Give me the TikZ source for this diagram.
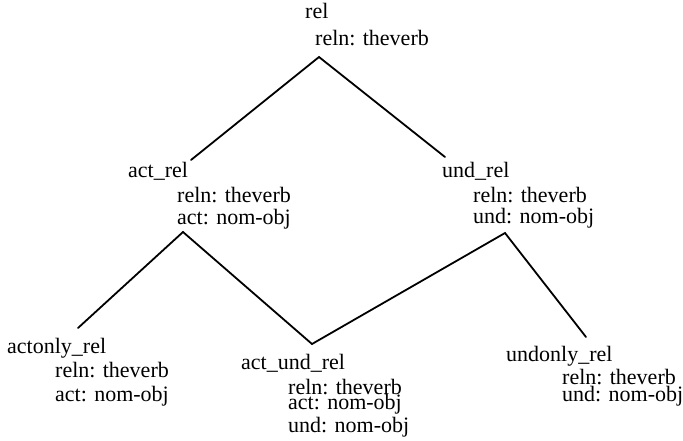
\documentclass[tikz,border=0pt]{standalone}
\usepackage{fontspec}
\setmainfont{Liberation Serif}
\begin{document}
\begin{tikzpicture}[x=1pt,y=-1pt,
  lbl/.style={anchor=base west,inner sep=0pt,font=\fontsize{22}{22}\selectfont},
  link/.style={line width=1.8pt,line cap=round,line join=miter}]
\useasboundingbox (0,0) rectangle (683,440);

% type names and their features
\node[lbl] (rel)    at (305,18)  {rel};
\node[lbl] (rel-a)  at (315,45)  {reln: theverb};

\node[lbl] (act)    at (128,177) {act\_rel};
\node[lbl] (act-a)  at (177,202) {reln: theverb};
\node[lbl] (act-b)  at (177,224) {act: nom-obj};

\node[lbl] (und)    at (442,177) {und\_rel};
\node[lbl] (und-a)  at (473,202) {reln: theverb};
\node[lbl] (und-b)  at (473,223) {und: nom-obj};

\node[lbl] (aon)    at (7,353)   {actonly\_rel};
\node[lbl] (aon-a)  at (55,377)  {reln: theverb};
\node[lbl] (aon-b)  at (55,401)  {act: nom-obj};

\node[lbl] (au)     at (241,369) {act\_und\_rel};
\node[lbl] (au-a)   at (288,394) {reln: theverb};
\node[lbl] (au-b)   at (288,409) {act: nom-obj};
\node[lbl] (au-c)   at (288,432) {und: nom-obj};

\node[lbl] (uon)    at (506,361) {undonly\_rel};
\node[lbl] (uon-a)  at (562,384) {reln: theverb};
\node[lbl] (uon-b)  at (562,401) {und: nom-obj};

% attachment points of the hierarchy links
\coordinate (rel-dn) at (319,57);
\coordinate (act-up) at (191,160);
\coordinate (und-up) at (445,157);
\coordinate (act-dn) at (183,232);
\coordinate (und-dn) at (505,233);
\coordinate (aon-up) at (78,328);
\coordinate (au-up)  at (312,344);
\coordinate (uon-up) at (586,337);

% hierarchy links
\draw[link] (act-up) -- (rel-dn) -- (und-up);
\draw[link] (aon-up) -- (act-dn) -- (au-up) -- (und-dn) -- (uon-up);
\end{tikzpicture}
\end{document}
